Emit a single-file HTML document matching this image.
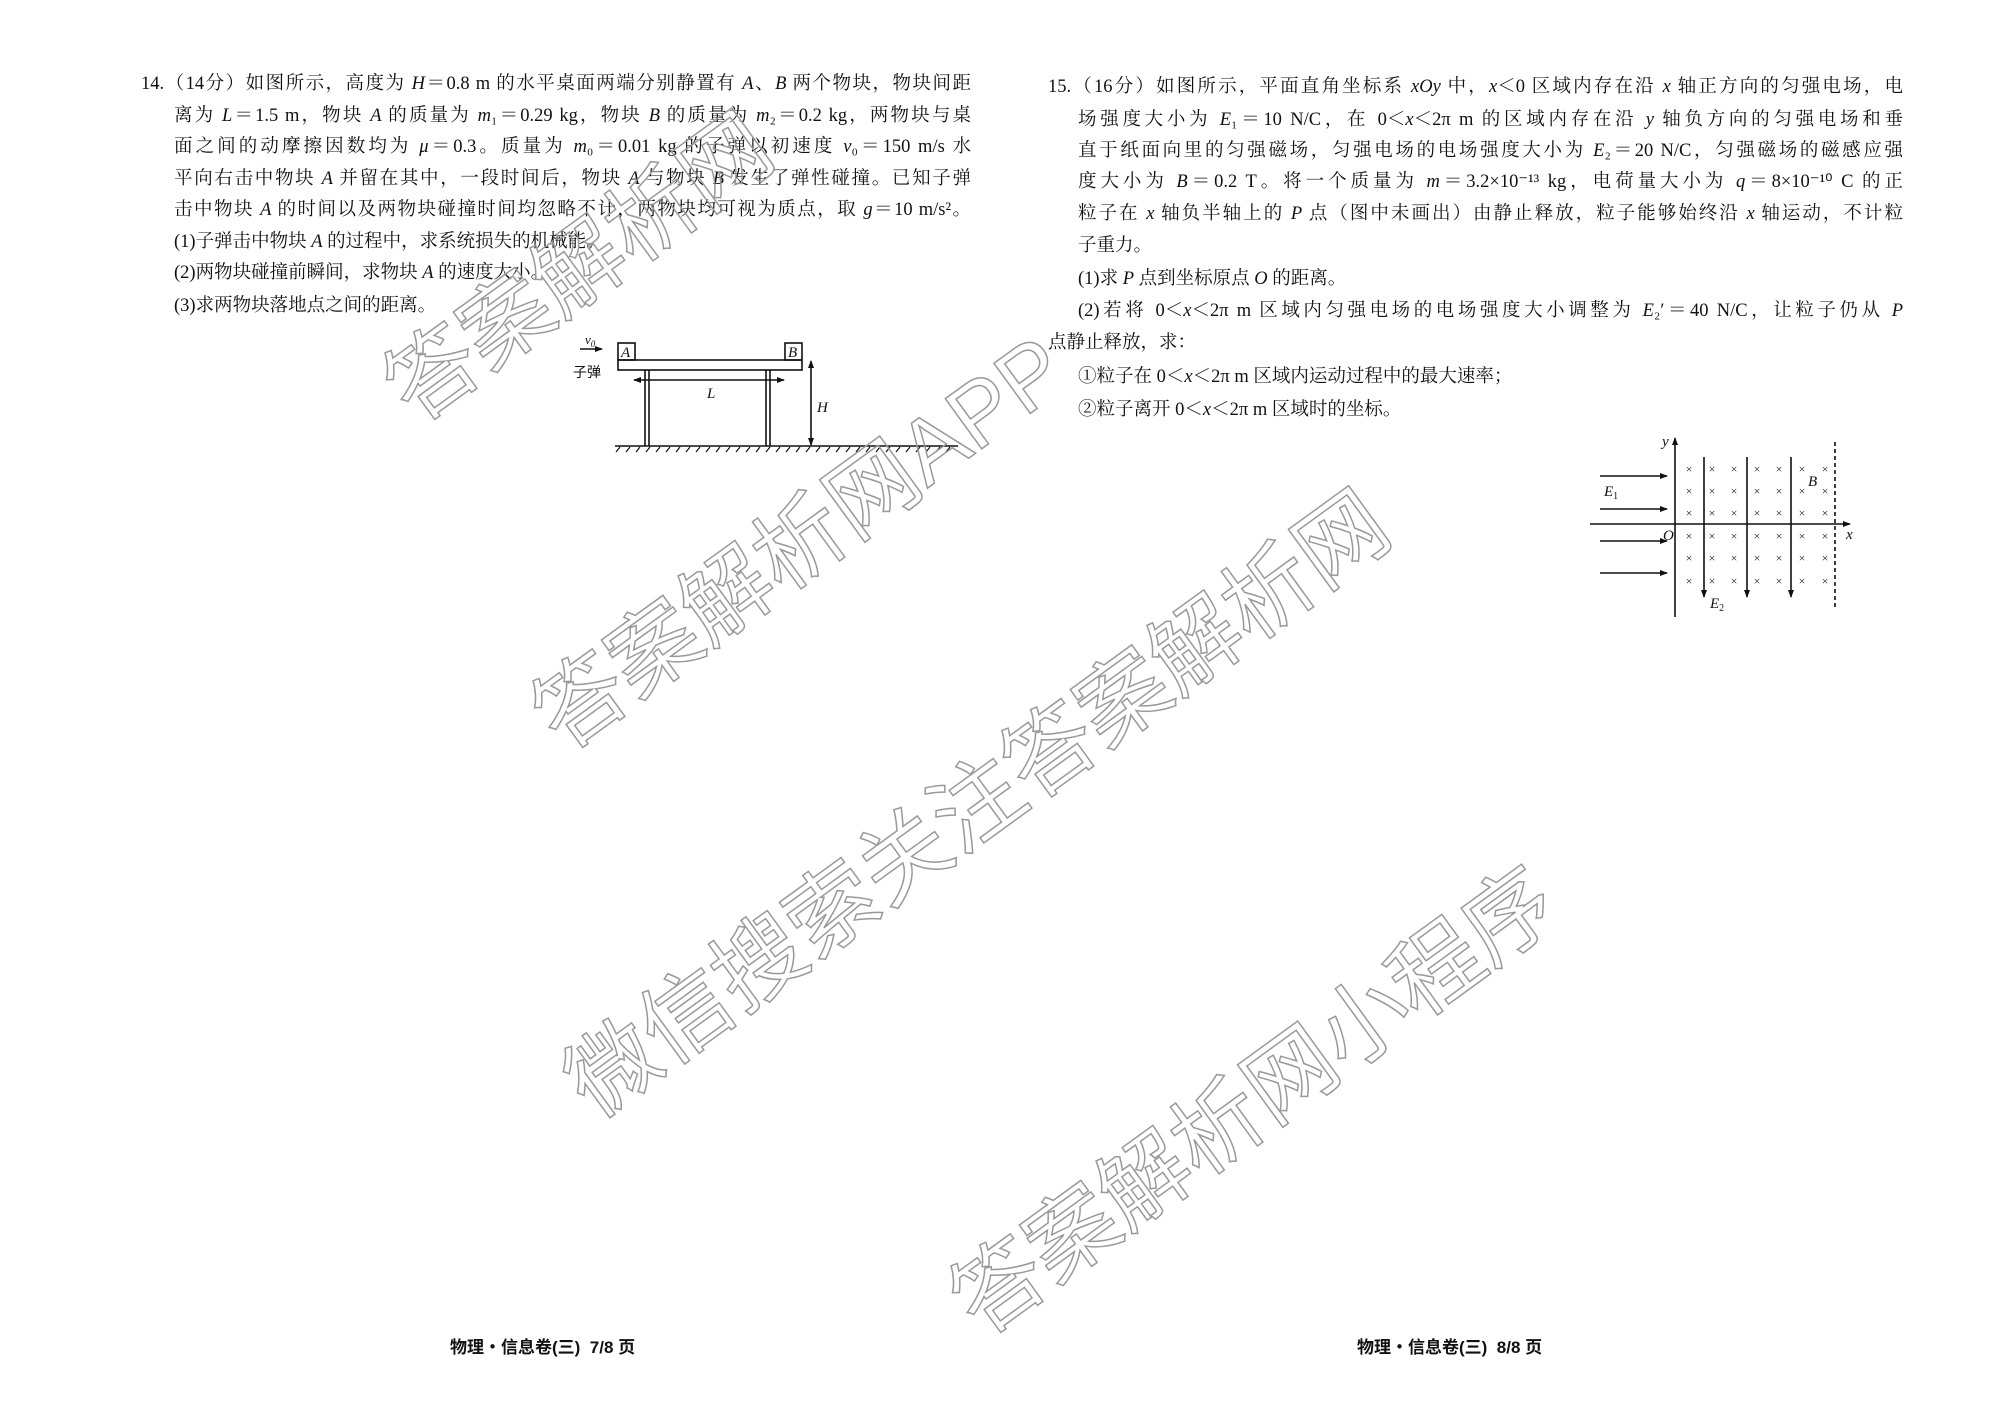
<!DOCTYPE html>
<html><head><meta charset="utf-8"><style>
body{margin:0;width:2000px;height:1415px;background:#fff;position:relative;overflow:hidden;font-family:"Liberation Serif","Noto Serif CJK SC",serif;color:#111}
.l{position:absolute;font-size:18.5px;line-height:24px;white-space:nowrap}
.j{text-align:justify;text-align-last:justify;white-space:normal}
.wm{position:absolute;font-family:"Liberation Sans","Noto Sans CJK SC",sans-serif;font-size:90px;line-height:90px;height:90px;color:transparent;-webkit-text-stroke:1.5px #999;white-space:nowrap;transform-origin:left bottom;transform:rotate(-36deg)}
i{font-style:italic}
</style></head><body>
<div class="l j" style="left:141px;top:72px;width:830px">14.（14分）如图所示，高度为 <i>H</i>＝0.8 m 的水平桌面两端分别静置有 <i>A</i>、<i>B</i> 两个物块，物块间距</div>
<div class="l j" style="left:174px;top:104px;width:797px">离为 <i>L</i>＝1.5 m，物块 <i>A</i> 的质量为 <i>m</i>₁＝0.29 kg，物块 <i>B</i> 的质量为 <i>m</i>₂＝0.2 kg，两物块与桌</div>
<div class="l j" style="left:174px;top:135px;width:797px">面之间的动摩擦因数均为 <i>μ</i>＝0.3。质量为 <i>m</i>₀＝0.01 kg 的子弹以初速度 <i>v</i>₀＝150 m/s 水</div>
<div class="l j" style="left:174px;top:167px;width:797px">平向右击中物块 <i>A</i> 并留在其中，一段时间后，物块 <i>A</i> 与物块 <i>B</i> 发生了弹性碰撞。已知子弹</div>
<div class="l j" style="left:174px;top:198px;width:797px">击中物块 <i>A</i> 的时间以及两物块碰撞时间均忽略不计，两物块均可视为质点，取 <i>g</i>＝10 m/s²。</div>
<div class="l" style="left:174px;top:230px">(1)子弹击中物块 <i>A</i> 的过程中，求系统损失的机械能。</div>
<div class="l" style="left:174px;top:261px">(2)两物块碰撞前瞬间，求物块 <i>A</i> 的速度大小。</div>
<div class="l" style="left:174px;top:294px">(3)求两物块落地点之间的距离。</div>

<div class="l j" style="left:1048px;top:75px;width:855px">15.（16分）如图所示，平面直角坐标系 <i>xOy</i> 中，<i>x</i>＜0 区域内存在沿 <i>x</i> 轴正方向的匀强电场，电</div>
<div class="l j" style="left:1078px;top:108px;width:825px">场强度大小为 <i>E</i>₁＝10 N/C，在 0＜<i>x</i>＜2π m 的区域内存在沿 <i>y</i> 轴负方向的匀强电场和垂</div>
<div class="l j" style="left:1078px;top:139px;width:825px">直于纸面向里的匀强磁场，匀强电场的电场强度大小为 <i>E</i>₂＝20 N/C，匀强磁场的磁感应强</div>
<div class="l j" style="left:1078px;top:170px;width:825px">度大小为 <i>B</i>＝0.2 T。将一个质量为 <i>m</i>＝3.2×10⁻¹³ kg，电荷量大小为 <i>q</i>＝8×10⁻¹⁰ C 的正</div>
<div class="l j" style="left:1078px;top:202px;width:825px">粒子在 <i>x</i> 轴负半轴上的 <i>P</i> 点（图中未画出）由静止释放，粒子能够始终沿 <i>x</i> 轴运动，不计粒</div>
<div class="l" style="left:1078px;top:234px">子重力。</div>
<div class="l" style="left:1078px;top:267px">(1)求 <i>P</i> 点到坐标原点 <i>O</i> 的距离。</div>
<div class="l j" style="left:1078px;top:299px;width:825px">(2)若将 0＜<i>x</i>＜2π m 区域内匀强电场的电场强度大小调整为 <i>E</i>₂′＝40 N/C，让粒子仍从 <i>P</i></div>
<div class="l" style="left:1048px;top:331px">点静止释放，求：</div>
<div class="l" style="left:1078px;top:365px">①粒子在 0＜<i>x</i>＜2π m 区域内运动过程中的最大速率；</div>
<div class="l" style="left:1078px;top:398px">②粒子离开 0＜<i>x</i>＜2π m 区域时的坐标。</div>

<div class="l" style="left:450px;top:1336px;font-weight:bold;font-family:'Liberation Sans','Noto Sans CJK SC',sans-serif;font-size:17px">物理・信息卷(三)&nbsp;&nbsp;7/8 页</div>
<div class="l" style="left:1357px;top:1336px;font-weight:bold;font-family:'Liberation Sans','Noto Sans CJK SC',sans-serif;font-size:17px">物理・信息卷(三)&nbsp;&nbsp;8/8 页</div>

<svg width="2000" height="1415" style="position:absolute;left:0;top:0" font-family="Liberation Serif, Noto Serif CJK SC, serif">
<defs><marker id="a" markerWidth="8" markerHeight="8" refX="7" refY="4" orient="auto" markerUnits="userSpaceOnUse"><path d="M0,1 L8,4 L0,7 z" fill="#111"/></marker>
<marker id="b" markerWidth="8" markerHeight="8" refX="1" refY="4" orient="auto" markerUnits="userSpaceOnUse"><path d="M8,1 L0,4 L8,7 z" fill="#111"/></marker></defs>
<g stroke="#111" stroke-width="1.6" fill="none">
<rect x="618" y="360" width="184" height="10"/>
<rect x="618" y="343" width="17" height="17"/>
<rect x="785" y="343" width="17" height="17"/>
<line x1="645" y1="370" x2="645" y2="446"/><line x1="649" y1="370" x2="649" y2="446"/>
<line x1="766" y1="370" x2="766" y2="446"/><line x1="770" y1="370" x2="770" y2="446"/>
<line x1="615" y1="446" x2="958" y2="446"/>
<line x1="634" y1="380" x2="784" y2="380" marker-end="url(#a)" marker-start="url(#b)"/>
<line x1="811" y1="361" x2="811" y2="445" marker-end="url(#a)" marker-start="url(#b)"/>
<line x1="580" y1="349" x2="602" y2="349" marker-end="url(#a)"/>
</g>
<path d="M620,447 l-4,5 M630,447 l-4,5 M640,447 l-4,5 M650,447 l-4,5 M660,447 l-4,5 M670,447 l-4,5 M680,447 l-4,5 M690,447 l-4,5 M700,447 l-4,5 M710,447 l-4,5 M720,447 l-4,5 M730,447 l-4,5 M740,447 l-4,5 M750,447 l-4,5 M760,447 l-4,5 M770,447 l-4,5 M780,447 l-4,5 M790,447 l-4,5 M800,447 l-4,5 M810,447 l-4,5 M820,447 l-4,5 M830,447 l-4,5 M840,447 l-4,5 M850,447 l-4,5 M860,447 l-4,5 M870,447 l-4,5 M880,447 l-4,5 M890,447 l-4,5 M900,447 l-4,5 M910,447 l-4,5 M920,447 l-4,5 M930,447 l-4,5 M940,447 l-4,5 M950,447 l-4,5" stroke="#111" stroke-width="1.2"/>
<g font-size="15" font-style="italic" fill="#111">
<text x="621" y="357">A</text><text x="788" y="357">B</text>
<text x="707" y="398">L</text><text x="817" y="412">H</text>
<text x="585" y="344" font-size="13">v<tspan font-size="9" dy="3">0</tspan></text>
</g>
<text x="573" y="377" font-size="14" fill="#111" font-family="Liberation Sans, Noto Sans CJK SC, sans-serif">子弹</text>

<g stroke="#111" stroke-width="1.6" fill="none">
<line x1="1675" y1="617" x2="1675" y2="438" marker-end="url(#a)"/>
<line x1="1590" y1="524" x2="1850" y2="524" marker-end="url(#a)"/>
<line x1="1835" y1="442" x2="1835" y2="607" stroke-dasharray="4,3"/>
<line x1="1704" y1="457" x2="1704" y2="597" marker-end="url(#a)"/>
<line x1="1747" y1="457" x2="1747" y2="597" marker-end="url(#a)"/>
<line x1="1791" y1="457" x2="1791" y2="597" marker-end="url(#a)"/>
<line x1="1600" y1="476" x2="1667" y2="476" marker-end="url(#a)"/>
<line x1="1600" y1="509" x2="1667" y2="509" marker-end="url(#a)"/>
<line x1="1600" y1="541" x2="1667" y2="541" marker-end="url(#a)"/>
<line x1="1600" y1="573" x2="1667" y2="573" marker-end="url(#a)"/>
</g>
<g font-size="12" fill="#111" text-anchor="middle">
<text x="1689" y="473">×</text><text x="1712" y="473">×</text><text x="1734" y="473">×</text><text x="1757" y="473">×</text><text x="1779" y="473">×</text><text x="1802" y="473">×</text><text x="1825" y="473">×</text>
<text x="1689" y="495">×</text><text x="1712" y="495">×</text><text x="1734" y="495">×</text><text x="1757" y="495">×</text><text x="1779" y="495">×</text><text x="1802" y="495">×</text><text x="1825" y="495">×</text>
<text x="1689" y="517">×</text><text x="1712" y="517">×</text><text x="1734" y="517">×</text><text x="1757" y="517">×</text><text x="1779" y="517">×</text><text x="1802" y="517">×</text><text x="1825" y="517">×</text>
<text x="1689" y="540">×</text><text x="1712" y="540">×</text><text x="1734" y="540">×</text><text x="1757" y="540">×</text><text x="1779" y="540">×</text><text x="1802" y="540">×</text><text x="1825" y="540">×</text>
<text x="1689" y="562">×</text><text x="1712" y="562">×</text><text x="1734" y="562">×</text><text x="1757" y="562">×</text><text x="1779" y="562">×</text><text x="1802" y="562">×</text><text x="1825" y="562">×</text>
<text x="1689" y="585">×</text><text x="1712" y="585">×</text><text x="1734" y="585">×</text><text x="1757" y="585">×</text><text x="1779" y="585">×</text><text x="1802" y="585">×</text><text x="1825" y="585">×</text>
</g>
<g font-size="15" font-style="italic" fill="#111">
<text x="1662" y="446">y</text><text x="1846" y="539">x</text><text x="1663" y="540">O</text>
<text x="1808" y="486">B</text>
<text x="1604" y="496">E<tspan font-size="10" dy="3" font-style="normal">1</tspan></text>
<text x="1710" y="608">E<tspan font-size="10" dy="3" font-style="normal">2</tspan></text>
</g>
</svg>

<div class="wm" style="left:424px;top:347px">答案解析网</div>
<div class="wm" style="left:572px;top:675px">答案解析网APP</div>
<div class="wm" style="left:604px;top:1042px">微信搜索关注答案解析网</div>
<div class="wm" style="left:990px;top:1260px">答案解析网小程序</div>
</body></html>
